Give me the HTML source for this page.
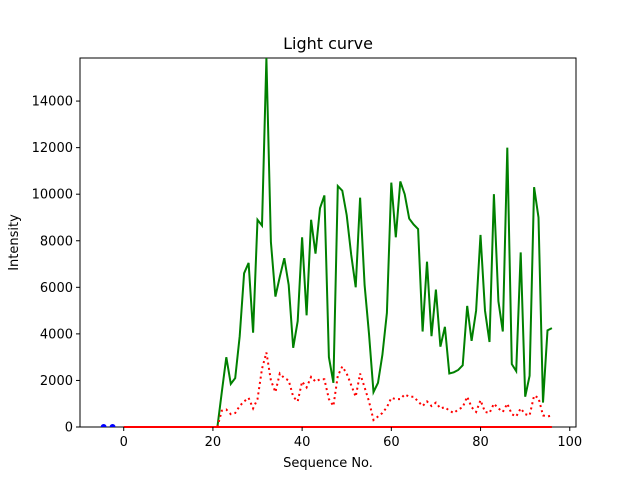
<!DOCTYPE html>
<html><head><meta charset="utf-8"><style>
body{margin:0;background:#fff;font-family:"DejaVu Sans","Liberation Sans",sans-serif}
</style></head><body>
<svg width="640" height="480" xmlns="http://www.w3.org/2000/svg" font-family="DejaVu Sans, Liberation Sans, sans-serif">
<rect width="640" height="480" fill="#fff"/>
<g id="plot"></g>
</svg>
<script>
const xs = [21,22,23,24,25,26,27,28,29,30,31,32,33,34,35,36,37,38,39,40,41,42,43,44,45,46,47,48,49,50,51,52,53,54,55,56,57,58,59,60,61,62,63,64,65,66,67,68,69,70,71,72,73,74,75,76,77,78,79,80,81,82,83,84,85,86,87,88,89,90,91,92,93,94,95,96];
const greenVals = [0,1500,3000,1850,2100,3900,6600,7050,4050,8900,8650,15850,7950,5600,6450,7250,6100,3400,4550,8150,4800,8900,7450,9400,9950,3000,1900,10350,10150,9100,7400,6000,9850,6100,4000,1500,1900,3100,4900,10500,8150,10550,10000,8950,8700,8500,4100,7100,3900,5900,3450,4300,2300,2350,2450,2650,5200,3700,5000,8250,5000,3650,10000,5400,4100,12000,2700,2400,7500,1300,2200,10300,9000,1050,4150,4250];
const redVals = [0,700,750,550,600,900,1100,1250,800,1200,2500,3200,2000,1500,2300,2100,2000,1300,1100,1950,1700,2150,1950,2050,2050,1200,900,2200,2600,2300,1800,1300,2300,1700,1100,300,450,600,850,1250,1200,1200,1400,1300,1300,1100,900,1100,900,1050,800,850,700,600,750,850,1300,850,650,1150,650,600,1000,800,650,1000,550,450,800,550,500,1350,1250,500,450,500];
const baseX = [0,96];
const baseVals = [0,0];
const blueX = [-4.5,-2.5];
const blueVals = [0,0];
const xTicks = [0,20,40,60,80,100];
const yTicks = [0,2000,4000,6000,8000,10000,12000,14000];

const L=80,R=576,T=58,B=427, xmin=-9.8, xmax=101.4, ymin=0, ymax=15850;
const sx=v=>L+(v-xmin)/(xmax-xmin)*(R-L);
const sy=v=>B-(v-ymin)/(ymax-ymin)*(B-T);
const NS="http://www.w3.org/2000/svg";
const g=document.getElementById('plot');
function mk(tag,attrs,parent){const e=document.createElementNS(NS,tag);for(const k in attrs)e.setAttribute(k,attrs[k]);(parent||g).appendChild(e);return e;}
function pts(x,y){return x.map((v,i)=>sx(v).toFixed(1)+','+sy(y[i]).toFixed(1)).join(' ');}

const clip=mk('clipPath',{id:'c'});mk('rect',{x:L,y:T,width:R-L,height:B-T},clip);

let e=mk('rect',{x:L,y:T,width:R-L,height:B-T,fill:'none',stroke:'#000','stroke-width':1});



e=mk('polyline',{points:pts(xs,greenVals),fill:'none',stroke:'#008000','stroke-width':2,'clip-path':'url(#c)'});


e=mk('polyline',{points:pts(xs,redVals),fill:'none',stroke:'#ff0000','stroke-width':2,'stroke-dasharray':'2,3.3'});


e=mk('polyline',{points:pts(baseX,baseVals),fill:'none',stroke:'#ff0000','stroke-width':2});


blueX.forEach((v,i)=>{const c=mk('circle',{cx:sx(v),cy:sy(blueVals[i]),r:3,fill:'#0000ff','clip-path':'url(#c)'});

});

xTicks.forEach(v=>{const x=sx(v);mk('line',{x1:x,x2:x,y1:B,y2:B+4,stroke:'#000'});
const t=mk('text',{x:x,y:B+19,'text-anchor':'middle','font-size':13});t.textContent=v;

});
yTicks.forEach(v=>{const y=sy(v);mk('line',{x1:L-4,x2:L,y1:y,y2:y,stroke:'#000'});
const t=mk('text',{x:L-7,y:y+4.5,'text-anchor':'end','font-size':13});t.textContent=v;

});

let t=mk('text',{x:(L+R)/2,y:49,'text-anchor':'middle','font-size':16});t.textContent='Light curve';


t=mk('text',{x:(L+R)/2,y:467,'text-anchor':'middle','font-size':13});t.textContent='Sequence No.';


t=mk('text',{x:18,y:(T+B)/2,'text-anchor':'middle','font-size':13,transform:'rotate(-90 18 '+((T+B)/2)+')'});t.textContent='Intensity';


</script>
</body></html>
